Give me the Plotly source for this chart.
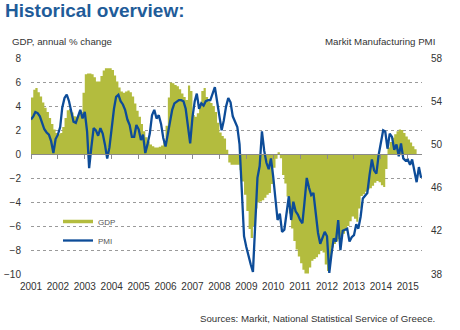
import pandas as pd
import plotly.graph_objects as go

# ---- data -------------------------------------------------------------
years = list(range(2001, 2016))
year_labels = [str(y) for y in years]
year_ticks = [f"{y}-01-01" for y in years]

# Markit Greece Manufacturing PMI, monthly from Jan 2001
pmi = [
    52.3, 52.6, 53.0, 52.9, 52.6, 51.9, 51.4, 51.1, 50.9, 50.3, 49.2, 50.5,   # 2001
    50.9, 51.6, 53.4, 54.3, 54.6, 54.0, 53.0, 52.1, 52.0, 52.6, 53.2, 52.4,   # 2002
    53.0, 51.2, 47.8, 49.8, 51.5, 51.3, 50.8, 51.5, 51.0, 50.0, 48.7, 49.7,   # 2003
    51.8, 53.3, 54.4, 54.6, 54.0, 53.7, 53.2, 52.3, 51.8, 50.7, 50.7, 51.8,   # 2004
    51.4, 50.4, 50.9, 49.2, 50.0, 51.0, 52.7, 53.2, 52.4, 52.7, 51.9, 50.6,   # 2005
    49.8, 51.0, 52.2, 53.2, 53.8, 54.0, 54.1, 54.1, 54.0, 53.3, 51.8, 50.1,   # 2006
    52.5, 54.0, 54.7, 53.3, 53.8, 53.6, 54.0, 54.1, 54.1, 54.6, 55.3, 54.0,   # 2007
    52.8, 51.3, 52.2, 53.5, 54.3, 53.9, 52.6, 52.1, 51.6, 50.0, 45.4, 41.5,   # 2008
    40.5, 39.6, 38.9, 38.2, 43.0, 46.9, 48.0, 51.2, 49.4, 48.3, 47.7, 48.7,   # 2009
    47.0, 45.0, 43.0, 43.6, 41.9, 42.1, 43.5, 45.2, 43.0, 44.7, 43.8, 43.5,   # 2010
    43.0, 42.7, 44.6, 46.9, 46.0, 45.3, 45.5, 43.5, 41.8, 40.8, 41.3, 41.9,   # 2011
    41.5, 38.1, 39.8, 41.3, 41.0, 43.0, 40.2, 42.0, 42.1, 42.2, 41.0, 41.4,   # 2012
    41.6, 42.6, 42.2, 43.3, 45.0, 45.3, 45.5, 47.2, 48.6, 47.6, 47.3, 49.0,   # 2013
    50.2, 51.3, 51.2, 49.6, 51.0, 50.7, 49.5, 50.0, 48.9, 50.1, 48.7, 48.5,   # 2014
    48.6, 48.1, 48.6, 47.6, 46.5, 47.9, 46.9,                                 # 2015
]

# GDP, annual % change, on the same monthly grid
gdp = [
    4.4, 5.0, 5.7, 5.3, 5.0, 4.6, 4.0, 3.7, 3.3, 2.7, 2.3, 1.8,               # 2001
    1.7, 1.6, 1.9, 2.6, 3.4, 3.9, 3.6, 3.3, 3.0, 3.2, 3.4, 3.6,               # 2002
    6.6, 6.7, 6.7, 6.7, 6.6, 6.2, 5.9, 6.2, 6.8, 7.1, 7.2, 7.1,               # 2003
    7.2, 6.8, 6.3, 5.8, 5.3, 5.1, 5.1, 5.3, 5.3, 5.0, 4.6, 3.8,               # 2004
    3.4, 2.8, 2.2, 1.6, 1.2, 0.9, 0.7, 0.6, 0.5, 0.6, 0.6, 0.8,               # 2005
    1.2, 3.5, 5.9, 6.0, 5.8, 5.7, 5.6, 5.2, 4.9, 4.6, 4.4, 7.0,               # 2006
    3.5, 3.0, 3.2, 3.6, 4.5, 6.0, 5.0, 4.5, 4.3, 4.2, 3.8, 3.2,               # 2007
    2.0, 1.6, 1.4, 1.2, -0.5, -0.9, -0.9, -0.9, -0.9, -0.9, -1.8, -2.8,       # 2008
    -4.0, -5.5, -7.0, -7.0, -5.0, -4.1, -4.0, -3.9, -3.8, -3.5, -3.3, -3.2,   # 2009
    -1.8, -0.5, -0.3, 0.6, -1.3, -2.2, -2.7, -4.4, -5.5, -6.9, -7.6, -8.3,    # 2010
    -8.8, -9.4, -9.9, -10.0, -9.9, -9.0, -8.8, -8.7, -8.5, -8.2, -7.9, -8.5,  # 2011
    -9.9, -9.6, -8.0, -7.6, -7.4, -7.2, -7.0, -6.8, -6.5, -6.2, -5.8, -5.4,   # 2012
    -5.0, -5.8, -5.5, -3.6, -3.4, -3.3, -3.0, -2.9, -2.8, -2.5, -2.3, -2.2,   # 2013
    -2.5, -2.7, -2.8, 0.3, 0.8, 1.2, 1.5, 1.8, 2.0, 2.1, 1.9, 1.6,            # 2014
    1.3, 1.1, 0.8, 0.5, 0.3,                                                  # 2015
]

gdp_ticks = [-10, -8, -6, -4, -2, 0, 2, 4, 6, 8]
pmi_ticks = [38, 42, 46, 50, 54, 58]

months = pd.date_range("2001-01-01", periods=len(pmi), freq="MS")
gdp_months = months[: len(gdp)]

# ---- styling ----------------------------------------------------------
OLIVE = "#b3bc3e"
BLUE = "#0d4c98"
TITLE_BLUE = "#1f5c99"
TEXT = "#333333"
FONT = "Liberation Sans, Arial, sans-serif"

W, H = 460, 330
L, R, T, B = 31, 38, 58, 56
PW, PH = W - L - R, H - T - B


def px(x):
    return (x - L) / PW


def py(y):
    return (H - B - y) / PH


fig = go.Figure()

# GDP as a stepped area: one flat step per month, filled to zero
fig.add_trace(go.Scatter(
    x=gdp_months, y=gdp, mode="lines",
    line=dict(shape="vhv", width=0, color=OLIVE),
    fill="tozeroy", fillcolor=OLIVE,
    name="GDP", showlegend=False, hoverinfo="skip",
    xaxis="x", yaxis="y",
))
# legend entry for GDP drawn as a thick line sample
fig.add_trace(go.Scatter(
    x=[None], y=[None], mode="lines",
    line=dict(color=OLIVE, width=3.5), name="GDP",
    xaxis="x2", yaxis="y",
))
fig.add_trace(go.Scatter(
    x=months, y=pmi, mode="lines",
    line=dict(color=BLUE, width=2.3), name="PMI",
    xaxis="x", yaxis="y2",
))

x_range = ["2001-01-01", "2015-07-13"]
zero_pos = (0 - gdp_ticks[0]) / (gdp_ticks[-1] - gdp_ticks[0])

fig.update_layout(
    width=W, height=H,
    margin=dict(l=L, r=R, t=T, b=B, pad=0),
    paper_bgcolor="white", plot_bgcolor="white",
    font=dict(family=FONT, size=10, color=TEXT),
    xaxis=dict(
        type="date", range=x_range, automargin=False,
        tickvals=year_ticks, ticktext=year_labels,
        showgrid=False, showline=False, ticks="", zeroline=False,
        ticklabelstandoff=5,
        tickfont=dict(size=10, color=TEXT),
    ),
    # zero line of the GDP scale, with a tick at the start of each year
    xaxis2=dict(
        type="date", range=x_range, overlaying="x", automargin=False,
        anchor="free", position=zero_pos, side="bottom",
        tickvals=year_ticks, showticklabels=False,
        showgrid=False, zeroline=False,
        showline=True, linecolor="#8a8a8a", linewidth=1,
        ticks="outside", ticklen=4, tickcolor="#8a8a8a", tickwidth=1,
    ),
    yaxis=dict(
        range=[gdp_ticks[0], gdp_ticks[-1]], tickvals=gdp_ticks,
        automargin=False,
        showgrid=True, gridcolor="#9a9a9a", gridwidth=1, griddash="dot",
        zeroline=False, showline=False, ticks="",
        ticklabelstandoff=9,
        tickfont=dict(size=10, color=TEXT),
    ),
    yaxis2=dict(
        range=[pmi_ticks[0], pmi_ticks[-1]], tickvals=pmi_ticks,
        overlaying="y", side="right", anchor="x", automargin=False,
        showgrid=False, zeroline=False, showline=False, ticks="",
        ticklabelstandoff=8,
        tickfont=dict(size=10, color=TEXT),
    ),
    legend=dict(
        x=px(58), y=py(207), xanchor="left", yanchor="top",
        bgcolor="rgba(0,0,0,0)", borderwidth=0,
        font=dict(size=8, color="#555555"),
        itemwidth=30,
    ),
)

annotations = [
    dict(text="<b>Historical overview:</b>", x=px(3), y=py(10.5),
         xanchor="left", yanchor="middle",
         font=dict(size=19, color=TITLE_BLUE, family=FONT)),
    dict(text="GDP, annual % change", x=px(10), y=py(42),
         xanchor="left", yanchor="middle", font=dict(size=9.7, color=TEXT)),
    dict(text="Markit Manufacturing PMI", x=px(437), y=py(42),
         xanchor="right", yanchor="middle", font=dict(size=9.7, color=TEXT)),
    dict(text="Sources: Markit, National Statistical Service of Greece.",
         x=px(437), y=py(318), xanchor="right", yanchor="middle",
         font=dict(size=9.7, color=TEXT)),
]
for a in annotations:
    a.update(xref="paper", yref="paper", showarrow=False)
fig.update_layout(annotations=annotations)

fig.write_html("out.html")
